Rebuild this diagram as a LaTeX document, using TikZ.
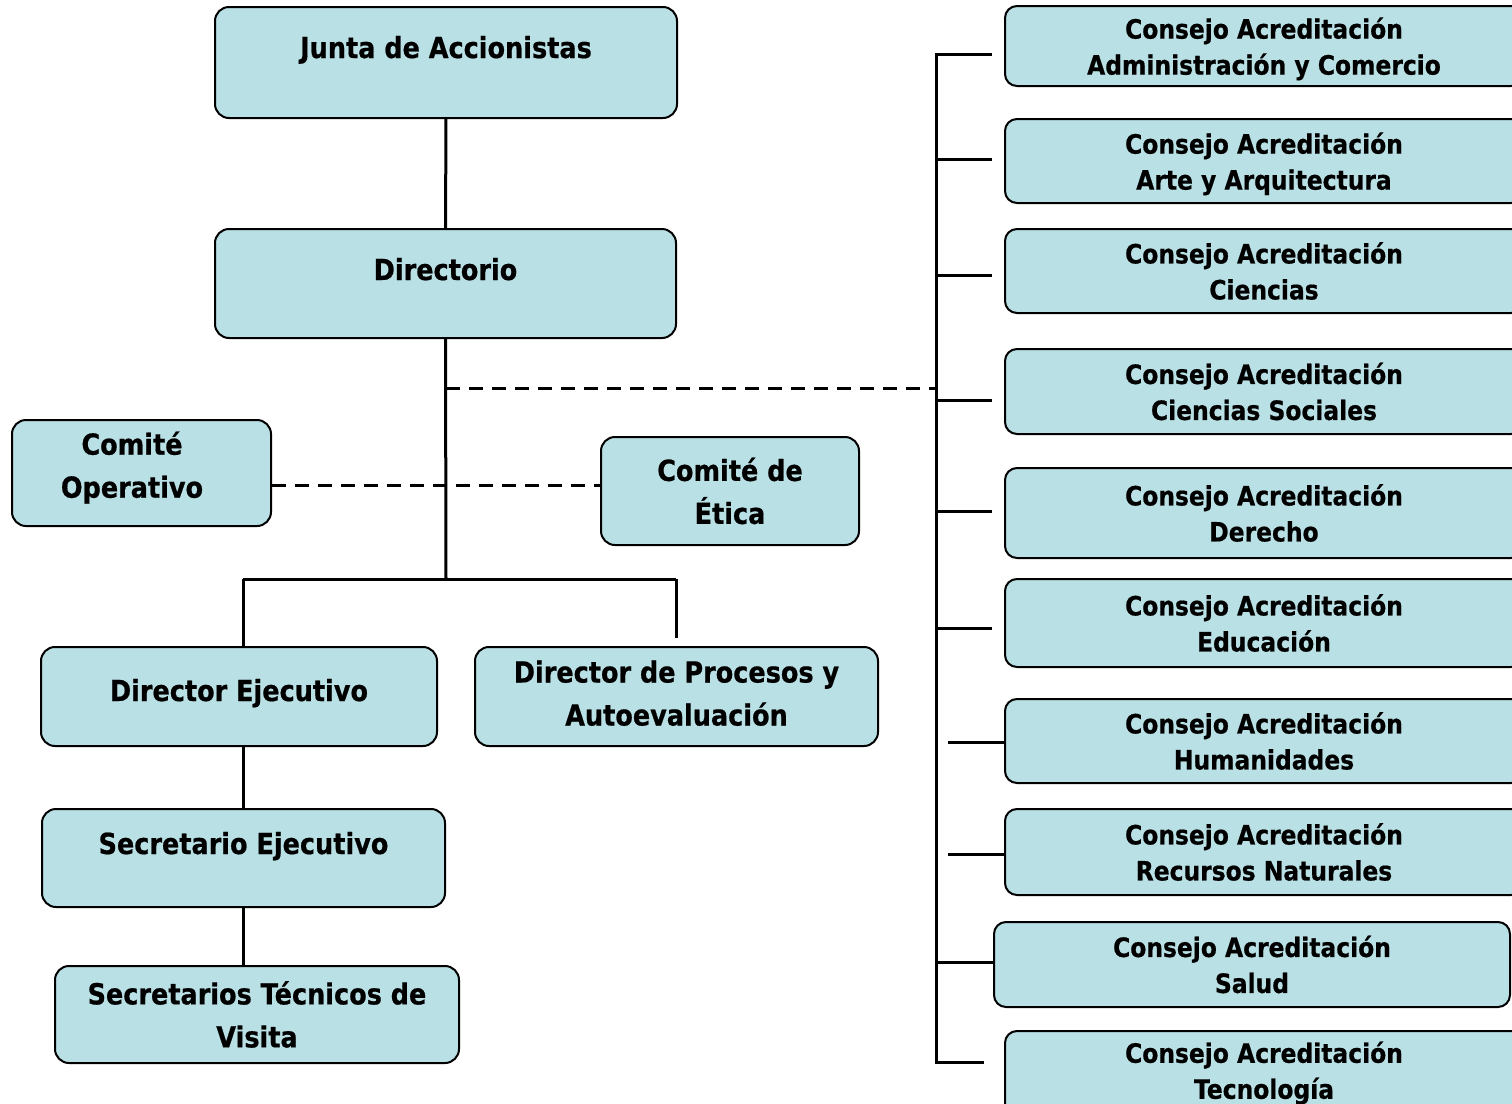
\documentclass[tikz,border=0pt]{standalone}
\usepackage{fontspec}
\setmainfont{DejaVu Sans}[FakeStretch=0.88, BoldFeatures={FakeBold=0.6}]
\usepackage{xcolor}
\usepackage{tikz}
\definecolor{orgteal}{RGB}{185,224,228}

\begin{document}
\begin{tikzpicture}[x=0.5pt, y=-0.5pt,
  orgbox/.style={draw, rectangle, rounded corners=7pt, fill=orgteal, line width=1pt, align=center, inner sep=0pt, font=\bfseries\fontsize{14.5}{21.5}\selectfont},
  consejo/.style={draw, rectangle, rounded corners=6pt, fill=orgteal, line width=1pt, align=center, inner sep=0pt, minimum width=259pt, font=\bfseries\fontsize{13.3}{18}\selectfont},
  link/.style={line width=1.5pt},
  dashlink/.style={line width=1.5pt, dash pattern=on 7pt off 4.5pt}]
\useasboundingbox (0,0) rectangle (1512,1104);
\clip (0,0) rectangle (1512,1104);

% left column
\node[orgbox, minimum width=231pt, minimum height=55.5pt, text depth=15.5pt] (junta) at (446,62.5) {Junta de Accionistas};
\node[orgbox, minimum width=230.5pt, minimum height=54.5pt, text depth=14.5pt] (dir) at (445.5,283.5) {Directorio};
\node[orgbox, minimum width=129.5pt, minimum height=53pt, text depth=8.4pt] (comop) at (141.5,473) {Comité\hspace*{9.5pt}\\Operativo\hspace*{9.5pt}};
\node[orgbox, minimum width=129pt, minimum height=54pt] (etica) at (730,491) {Comité de\\Ética};
\node[orgbox, minimum width=198pt, minimum height=49.5pt, text depth=6.5pt] (dirEj) at (239,696.5) {Director Ejecutivo};
\node[orgbox, minimum width=201.5pt, minimum height=49.5pt, text depth=3.5pt] (dirProc) at (676.5,696.5) {Director de Procesos y\\Autoevaluación};
\node[orgbox, minimum width=201.5pt, minimum height=49pt, text depth=15pt] (secEj) at (243.5,858) {Secretario Ejecutivo};
\node[orgbox, minimum width=202pt, minimum height=48.5pt] (secTec) at (257,1014.5) {Secretarios Técnicos de\\Visita};

% consejos
\node[consejo, minimum height=40pt, text depth=0pt] (c1) at (1264,46) {Consejo Acreditación\\Administración y Comercio};
\node[consejo, minimum height=42pt, text depth=0pt] (c2) at (1264,161) {Consejo Acreditación\\Arte y Arquitectura};
\node[consejo, minimum height=42pt] (c3) at (1264,271) {Consejo Acreditación\\Ciencias};
\node[consejo, minimum height=42.5pt] (c4) at (1264,391.5) {Consejo Acreditación\\Ciencias Sociales};
\node[consejo, minimum height=45pt] (c5) at (1264,513) {Consejo Acreditación\\Derecho};
\node[consejo, minimum height=44pt] (c6) at (1264,623) {Consejo Acreditación\\Educación};
\node[consejo, minimum height=42pt] (c7) at (1264,741) {Consejo Acreditación\\Humanidades};
\node[consejo, minimum height=43pt] (c8) at (1264,852) {Consejo Acreditación\\Recursos Naturales};
\node[consejo, minimum width=258pt, minimum height=42.5pt] (c9) at (1252,964.5) {Consejo Acreditación\\Salud};
\node[consejo, minimum height=42pt] (c10) at (1264,1073) {Consejo Acreditación\\Tecnología};

\coordinate (hub) at (446,579);
\coordinate (lhub) at (243,579);
\coordinate (rhub) at (676,579);
\coordinate (procgap) at (676,638);
\coordinate (dashL) at (446,388);
\coordinate (opdash) at (446,485);
\coordinate (bus) at (936,0);
\coordinate (stubin) at (948,0);

\draw[link] (junta) -- (dir);
\draw[link] (dir.south) -- (hub);
\draw[link] (lhub) -- (rhub);
\draw[link] (lhub) -- (lhub |- dirEj.north);
\draw[link] (rhub) -- (procgap);
\draw[link] (secEj.north |- dirEj.south) -- (secEj.north);
\draw[link] (secEj.south) -- (secEj.south |- secTec.north);
\draw[dashlink] (dashL) -- (dashL -| bus);
\draw[dashlink] (comop.east |- opdash) -- (etica.west |- opdash);

% bus to the consejos
\draw[link] ([xshift=-6pt,yshift=-4pt]c1.west) -- ([yshift=-4pt]c1.west -| bus) -- ([yshift=5.5pt]c10.west -| bus) -- ([xshift=-10pt,yshift=5.5pt]c10.west);
\draw[link] ([yshift=1pt]c2.west -| bus) -- ([xshift=-6pt,yshift=1pt]c2.west);
\draw[link] ([yshift=-2pt]c3.west -| bus) -- ([xshift=-6pt,yshift=-2pt]c3.west);
\draw[link] ([yshift=-4.25pt]c4.west -| bus) -- ([xshift=-6pt,yshift=-4.25pt]c4.west);
\draw[link] ([yshift=1pt]c5.west -| bus) -- ([xshift=-6pt,yshift=1pt]c5.west);
\draw[link] ([yshift=-2.5pt]c6.west -| bus) -- ([xshift=-6pt,yshift=-2.5pt]c6.west);
\draw[link] ([yshift=-0.5pt]c7.west -| stubin) -- ([yshift=-0.5pt]c7.west);
\draw[link] ([yshift=-1pt]c8.west -| stubin) -- ([yshift=-1pt]c8.west);
\draw[link] ([yshift=1.25pt]c9.west -| bus) -- ([yshift=1.25pt]c9.west);
\end{tikzpicture}
\end{document}
